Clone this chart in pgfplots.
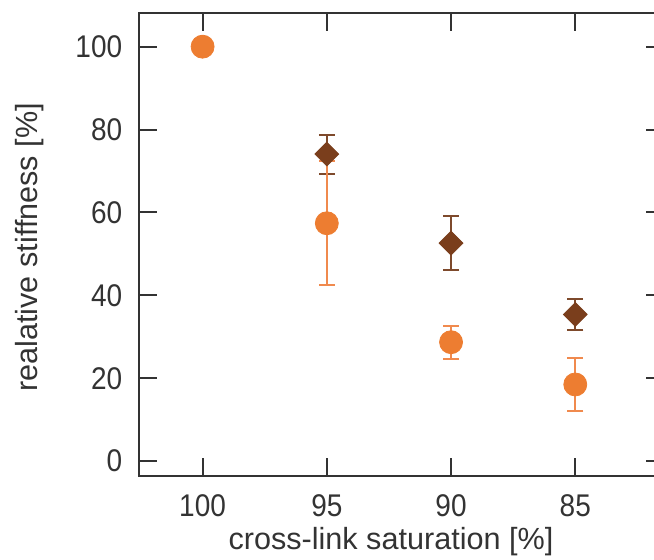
\documentclass[border=0pt]{standalone}
\usepackage{fontspec}
\setmainfont{Liberation Sans}
\usepackage{pgfplots}
\pgfplotsset{compat=1.18}

\definecolor{orangeM}{HTML}{ED7D31}
\definecolor{orangeE}{HTML}{F08A4E}
\definecolor{brownM}{HTML}{7A3E1C}
\definecolor{brownE}{HTML}{7E4A2C}
\definecolor{axgray}{HTML}{333333}

\begin{document}
\begin{tikzpicture}
% picture is cut off at the right, like the reference
\useasboundingbox (-69.5pt,-41.75pt) rectangle (257.5pt,238.25pt);
\clip (-69.5pt,-41.75pt) rectangle (257.5pt,238.25pt);
\begin{axis}[
    at={(0pt,0pt)}, anchor=south west,
    scale only axis,
    width=262.5pt, height=231.9pt,
    x dir=reverse,
    xmin=81.43, xmax=102.56,
    ymin=-3.7, ymax=108.2,
    xtick={100,95,90,85},
    ytick={0,20,40,60,80,100},
    axis line style={axgray, line width=1pt},
    major tick style={axgray, line width=1pt},
    major tick length=9pt,
    /pgf/number format/assume math mode=true,
    tick label style={font=\fontsize{14}{17}\selectfont, text=axgray, yscale=1.12},
    xticklabel style={inner sep=0pt, yshift=-7.9pt},
    yticklabel style={inner sep=0pt, xshift=-8.2pt},
    label style={font=\fontsize{15.3}{18}\selectfont, text=axgray},
    xlabel={cross-link saturation [\%]},
    xlabel style={at={(axis description cs:0.48,-0.109)}, anchor=north, inner sep=0pt},
    ylabel={realative stiffness [\%]},
    ylabel style={at={(axis description cs:-0.181,0.494)}, anchor=south, inner sep=0pt},
    clip=false,
]
\addplot[only marks, mark=square*, mark size=4.2pt,
    mark options={rotate=45, fill=brownM, draw=brownM},
    error bars/.cd, y dir=both, y explicit,
    error bar style={brownE, line width=1pt},
    error mark options={rotate=90, mark size=4pt, brownE, line width=1pt}]
  coordinates {
    (95,74.1) +- (0,4.7)
    (90,52.6) +- (0,6.6)
    (85,35.4) +- (0,3.7)
  };
\addplot[only marks, mark=*, mark size=5.75pt,
    mark options={fill=orangeM, draw=orangeM},
    error bars/.cd, y dir=both, y explicit,
    error bar style={orangeE, line width=1pt},
    error mark options={rotate=90, mark size=4pt, orangeE, line width=1pt}]
  coordinates {
    (100,100) +- (0,0)
    (95,57.4) +- (0,15.0)
    (90,28.7) +- (0,4.0)
    (85,18.5) +- (0,6.4)
  };
\end{axis}
\end{tikzpicture}
\end{document}
